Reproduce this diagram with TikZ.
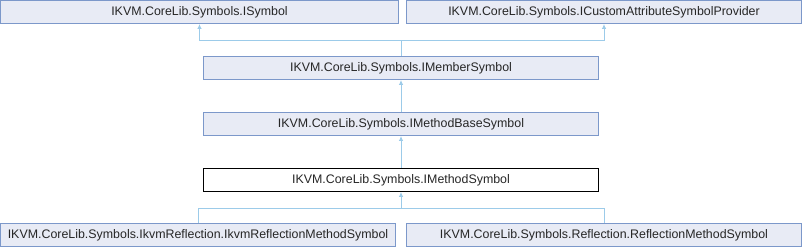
\documentclass[tikz,border=0pt]{standalone}
\usepackage{fontspec}
\setmainfont{Liberation Sans}
\usepackage{tikz}
\usetikzlibrary{arrows.meta,positioning}
\definecolor{boxfill}{HTML}{E8EBF5}
\definecolor{boxline}{HTML}{7C98CA}
\definecolor{edgeblue}{HTML}{9CCBE9}
\definecolor{textdark}{HTML}{262626}
\tikzset{
  cls/.style={draw=boxline,fill=boxfill,line width=0.9pt,inner sep=0pt,
              minimum height=23pt,text=textdark},
  current/.style={cls,draw=black,fill=white},
  edge/.style={draw=edgeblue,line width=0.9pt,{Latex[length=5pt,width=4.5pt]}-}
}

\begin{document}
\begin{tikzpicture}[x=1pt,y=-1pt,font=\fontsize{12.4}{14}\selectfont]
  \useasboundingbox (0,0) rectangle (802,248);
  % base interfaces
  \node[cls,minimum width=398pt] (isym)  at (199.5,12) {IKVM.CoreLib.Symbols.ISymbol};
  \node[cls,minimum width=395pt] (iprov) at (604,12)   {IKVM.CoreLib.Symbols.ICustomAttributeSymbolProvider};
  % chain
  \node[cls,minimum width=395pt]     (imem)  at (401,68)  {IKVM.CoreLib.Symbols.IMemberSymbol};
  \node[cls,minimum width=395pt]     (ibase) at (401,124) {IKVM.CoreLib.Symbols.IMethodBaseSymbol};
  \node[current,minimum width=395pt] (imeth) at (401,180) {IKVM.CoreLib.Symbols.IMethodSymbol};
  % implementations
  \node[cls,minimum width=395pt] (ikvm) at (198,235) {IKVM.CoreLib.Symbols.IkvmReflection.IkvmReflectionMethodSymbol};
  \node[cls,minimum width=395pt] (refl) at (604,235) {IKVM.CoreLib.Symbols.Reflection.ReflectionMethodSymbol};

  \coordinate (topjoin) at (401,40);
  \coordinate (lowjoin) at (401,208);
  \draw[edge] (isym.south) |- (topjoin) -- (imem.north);
  \draw[edge] (iprov.south) |- (topjoin);
  \draw[edge] (imem.south) -- (ibase.north);
  \draw[edge] (ibase.south) -- (imeth.north);
  \draw[edge] (imeth.south) -- (lowjoin) -| (ikvm.north);
  \draw[edge,-] (lowjoin) -| (refl.north);
\end{tikzpicture}
\end{document}
